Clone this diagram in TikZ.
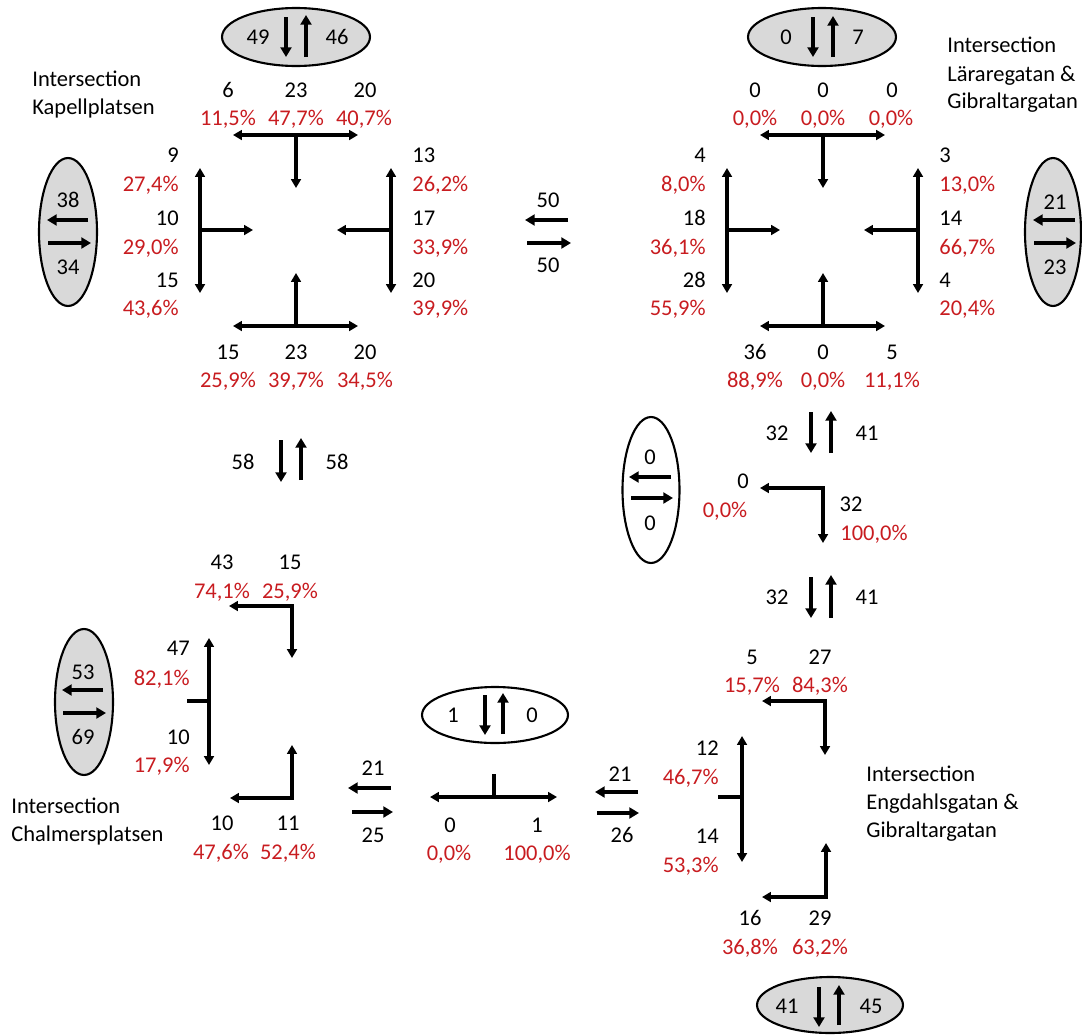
\documentclass[tikz,border=0pt]{standalone}
\usepackage{fontspec}
\setmainfont{Carlito}
\usepackage{xcolor}
\usetikzlibrary{arrows.meta, positioning, shapes.geometric}

\definecolor{pctred}{RGB}{200,28,32}
\definecolor{ringgray}{RGB}{217,217,217}

\begin{document}
\begin{tikzpicture}[x=0.02cm, y=-0.02cm,
    font=\fontsize{12.8}{15}\selectfont,
    lbl/.style={inner sep=0pt, text height=8.1pt, text depth=0pt},
    cnt/.style={lbl, text=black},
    pct/.style={lbl, text=pctred},
    ring/.style={draw, ellipse, line width=1.2pt, inner sep=0pt},
    flow/.style={line width=1.9pt, -{Triangle[length=5pt,width=5.5pt]}},
    twoway/.style={line width=1.9pt, {Triangle[length=5pt,width=5.5pt]}-{Triangle[length=5pt,width=5.5pt]}},
    stub/.style={line width=1.9pt},
    link/.style={line width=2.1pt, -{Triangle[length=5.5pt,width=6.2pt]}}]
    \useasboundingbox (0,0) rectangle (1082,1035);

    % Four-way intersections (Kapellplatsen and Läraregatan)
    \foreach \dx in {0,527} {
        \begin{scope}[shift={(\dx,0)}]
            \draw[twoway] (233,135) -- (358,135);
            \draw[flow] (296,135) -- (296,188);
            \draw[twoway] (200,168) -- (200,293);
            \draw[flow] (200,230) -- (253,230);
            \draw[twoway] (391,168) -- (391,293);
            \draw[flow] (391,230) -- (337,230);
            \draw[twoway] (233,326) -- (358,326);
            \draw[flow] (296,326) -- (296,273);
        \end{scope}
    }

    % Kapellplatsen
    \node[cnt, anchor=west] (kpT1) at (32,79) {Intersection};
    \node[cnt, anchor=west] (kpT2) at (32,107) {Kapellplatsen};
    \node[ring, fill=ringgray, minimum width=2.96cm, minimum height=1.16cm] (kpNring) at (296,37) {};
    \node[cnt] (kpNin) at (258,37) {49};
    \node[cnt] (kpNout) at (337,37) {46};
    \draw[link] (286,17) -- (286,57);
    \draw[link] (306,57) -- (306,15);
    \node[ring, fill=ringgray, minimum width=1.16cm, minimum height=2.96cm] (kpWring) at (68,232) {};
    \node[cnt] (kpWin) at (68,200) {38};
    \node[cnt] (kpWout) at (68,267) {34};
    \draw[link] (88,220) -- (47,220);
    \draw[link] (48,243) -- (91,243);
    \node[cnt] (kpN1) at (228,90) {6};
    \node[cnt] (kpN2) at (296,90) {23};
    \node[cnt] (kpN3) at (365,90) {20};
    \node[pct] (kpN1p) at (228,118) {11,5\%};
    \node[pct] (kpN2p) at (296,118) {47,7\%};
    \node[pct] (kpN3p) at (364,118) {40,7\%};
    \node[cnt, anchor=east] (kpW1) at (179,155) {9};
    \node[pct, anchor=east] (kpW1p) at (179,184) {27,4\%};
    \node[cnt, anchor=east] (kpW2) at (179,218) {10};
    \node[pct, anchor=east] (kpW2p) at (179,247) {29,0\%};
    \node[cnt, anchor=east] (kpW3) at (179,280) {15};
    \node[pct, anchor=east] (kpW3p) at (179,308) {43,6\%};
    \node[cnt, anchor=west] (kpE1) at (412,155) {13};
    \node[pct, anchor=west] (kpE1p) at (412,184) {26,2\%};
    \node[cnt, anchor=west] (kpE2) at (412,218) {17};
    \node[pct, anchor=west] (kpE2p) at (412,247) {33,9\%};
    \node[cnt, anchor=west] (kpE3) at (412,280) {20};
    \node[pct, anchor=west] (kpE3p) at (412,308) {39,9\%};
    \node[cnt] (kpS1) at (228,352) {15};
    \node[cnt] (kpS2) at (296,352) {23};
    \node[cnt] (kpS3) at (365,352) {20};
    \node[pct] (kpS1p) at (228,380) {25,9\%};
    \node[pct] (kpS2p) at (296,380) {39,7\%};
    \node[pct] (kpS3p) at (365,380) {34,5\%};

    % Kapellplatsen <-> Läraregatan
    \node[cnt] (klIn) at (548,200) {50};
    \node[cnt] (klOut) at (548,265) {50};
    \draw[link] (568,220) -- (525,220);
    \draw[link] (527,243) -- (571,243);

    % Läraregatan & Gibraltargatan
    \node[cnt, anchor=west] (lgT1) at (947,45) {Intersection};
    \node[cnt, anchor=west] (lgT2) at (947,74) {Läraregatan \&};
    \node[cnt, anchor=west] (lgT3) at (947,101) {Gibraltargatan};
    \node[ring, fill=ringgray, minimum width=2.96cm, minimum height=1.16cm] (lgNring) at (822,37) {};
    \node[cnt] (lgNin) at (786,37) {0};
    \node[cnt] (lgNout) at (858,37) {7};
    \draw[link] (813,17) -- (813,57);
    \draw[link] (833,57) -- (833,16);
    \node[ring, fill=ringgray, minimum width=1.12cm, minimum height=2.96cm] (lgEring) at (1053,232) {};
    \node[cnt] (lgEin) at (1055,202) {21};
    \node[cnt] (lgEout) at (1055,267) {23};
    \draw[link] (1075,220) -- (1033,220);
    \draw[link] (1034,243) -- (1076,243);
    \node[cnt] (lgN1) at (755,90) {0};
    \node[cnt] (lgN2) at (823,90) {0};
    \node[cnt] (lgN3) at (892,90) {0};
    \node[pct] (lgN1p) at (755,118) {0,0\%};
    \node[pct] (lgN2p) at (823,118) {0,0\%};
    \node[pct] (lgN3p) at (891,118) {0,0\%};
    \node[cnt, anchor=east] (lgW1) at (706,155) {4};
    \node[pct, anchor=east] (lgW1p) at (706,184) {8,0\%};
    \node[cnt, anchor=east] (lgW2) at (706,218) {18};
    \node[pct, anchor=east] (lgW2p) at (706,247) {36,1\%};
    \node[cnt, anchor=east] (lgW3) at (706,280) {28};
    \node[pct, anchor=east] (lgW3p) at (706,308) {55,9\%};
    \node[cnt, anchor=west] (lgE1) at (939,155) {3};
    \node[pct, anchor=west] (lgE1p) at (939,184) {13,0\%};
    \node[cnt, anchor=west] (lgE2) at (939,218) {14};
    \node[pct, anchor=west] (lgE2p) at (939,247) {66,7\%};
    \node[cnt, anchor=west] (lgE3) at (939,280) {4};
    \node[pct, anchor=west] (lgE3p) at (939,308) {20,4\%};
    \node[cnt] (lgS1) at (755,352) {36};
    \node[cnt] (lgS2) at (823,352) {0};
    \node[cnt] (lgS3) at (892,352) {5};
    \node[pct] (lgS1p) at (755,380) {88,9\%};
    \node[pct] (lgS2p) at (823,380) {0,0\%};
    \node[pct] (lgS3p) at (892,380) {11,1\%};

    % Gibraltargatan, middle section
    \node[cnt] (gmIn1) at (777,433) {32};
    \node[cnt] (gmOut1) at (867,433) {41};
    \draw[link] (811,412) -- (811,453);
    \draw[link] (831,453) -- (831,411);
    \node[ring, minimum width=1.14cm, minimum height=2.92cm] (gmWring) at (651,490) {};
    \node[cnt] (gmWin) at (650,457) {0};
    \node[cnt] (gmWout) at (650,523) {0};
    \draw[link] (671,477) -- (629,477);
    \draw[link] (631,498) -- (673,498);
    \draw[twoway] (760,488) -- (823,488) -- (823,543);
    \node[cnt] (gmW) at (743,481) {0};
    \node[pct] (gmWp) at (725,510) {0,0\%};
    \node[cnt] (gmS) at (851,504) {32};
    \node[pct] (gmSp) at (874,533) {100,0\%};
    \node[cnt] (gmIn2) at (777,597) {32};
    \node[cnt] (gmOut2) at (867,597) {41};
    \draw[link] (811,577) -- (811,618);
    \draw[link] (831,618) -- (831,575);

    % Engdahlsgatan & Gibraltargatan
    \node[cnt, anchor=west] (egT1) at (866,774) {Intersection};
    \node[cnt, anchor=west] (egT2) at (866,802) {Engdahlsgatan \&};
    \node[cnt, anchor=west] (egT3) at (866,830) {Gibraltargatan};
    \node[cnt] (egN1) at (752,657) {5};
    \node[cnt] (egN2) at (820,657) {27};
    \node[pct] (egN1p) at (752,685) {15,7\%};
    \node[pct] (egN2p) at (820,685) {84,3\%};
    \draw[twoway] (762,701) -- (825,701) -- (825,755);
    \draw[twoway] (742,736) -- (742,862);
    \draw[stub] (718,797) -- (742,797);
    \node[cnt, anchor=east] (egW1) at (719,748) {12};
    \node[pct, anchor=east] (egW1p) at (719,777) {46,7\%};
    \node[cnt, anchor=east] (egW2) at (719,836) {14};
    \node[pct, anchor=east] (egW2p) at (719,865) {53,3\%};
    \draw[twoway] (826,843) -- (826,897) -- (762,897);
    \node[cnt] (egS1) at (750,918) {16};
    \node[cnt] (egS2) at (820,918) {29};
    \node[pct] (egS1p) at (750,947) {36,8\%};
    \node[pct] (egS2p) at (820,947) {63,2\%};
    \node[ring, fill=ringgray, minimum width=2.92cm, minimum height=1.12cm] (egSring) at (830,1005) {};
    \node[cnt] (egSin) at (787,1006) {41};
    \node[cnt] (egSout) at (871,1006) {45};
    \draw[link] (819,987) -- (819,1027);
    \draw[link] (839,1025) -- (839,985);

    % Engdahlsgatan, middle section
    \node[cnt] (emIn) at (620,774) {21};
    \node[cnt] (emOut) at (622,835) {26};
    \draw[link] (638,792) -- (595,792);
    \draw[link] (597,813) -- (639,813);
    \node[ring, minimum width=2.92cm, minimum height=1.12cm] (emNring) at (495,715) {};
    \node[cnt] (emNin) at (453,715) {1};
    \node[cnt] (emNout) at (532,715) {0};
    \draw[link] (485,695) -- (485,735);
    \draw[link] (503,734) -- (503,693);
    \draw[twoway] (430,797) -- (557,797);
    \draw[stub] (494,797) -- (494,774);
    \node[cnt] (emW) at (450,825) {0};
    \node[cnt] (emE) at (537,825) {1};
    \node[pct] (emWp) at (449,853) {0,0\%};
    \node[pct] (emEp) at (537,853) {100,0\%};
    \node[cnt] (cmIn) at (373,768) {21};
    \node[cnt] (cmOut) at (373,835) {25};
    \draw[link] (391,788) -- (348,788);
    \draw[link] (352,812) -- (393,812);

    % Kapellplatsen <-> Chalmersplatsen
    \node[cnt] (kcIn) at (243,462) {58};
    \node[cnt] (kcOut) at (337,462) {58};
    \draw[link] (281,440) -- (281,482);
    \draw[link] (301,480) -- (301,438);

    % Chalmersplatsen
    \node[cnt, anchor=west] (cpT1) at (11,806) {Intersection};
    \node[cnt, anchor=west] (cpT2) at (11,834) {Chalmersplatsen};
    \node[cnt] (cpN1) at (222,562) {43};
    \node[cnt] (cpN2) at (290,562) {15};
    \node[pct] (cpN1p) at (222,591) {74,1\%};
    \node[pct] (cpN2p) at (290,591) {25,9\%};
    \draw[twoway] (229,606) -- (292,606) -- (292,658);
    \draw[twoway] (209,638) -- (209,765);
    \draw[stub] (187,701) -- (209,701);
    \node[cnt, anchor=east] (cpW1) at (190,648) {47};
    \node[pct, anchor=east] (cpW1p) at (190,678) {82,1\%};
    \node[cnt, anchor=east] (cpW2) at (190,737) {10};
    \node[pct, anchor=east] (cpW2p) at (190,765) {17,9\%};
    \draw[twoway] (292,745) -- (292,798) -- (230,798);
    \node[cnt] (cpS1) at (222,823) {10};
    \node[cnt] (cpS2) at (288,823) {11};
    \node[pct] (cpS1p) at (221,852) {47,6\%};
    \node[pct] (cpS2p) at (288,852) {52,4\%};
    \node[ring, fill=ringgray, minimum width=1.16cm, minimum height=2.92cm] (cpWring) at (84,702) {};
    \node[cnt] (cpWin) at (83,672) {53};
    \node[cnt] (cpWout) at (83,737) {69};
    \draw[link] (103,690) -- (62,690);
    \draw[link] (63,713) -- (106,713);
\end{tikzpicture}
\end{document}
